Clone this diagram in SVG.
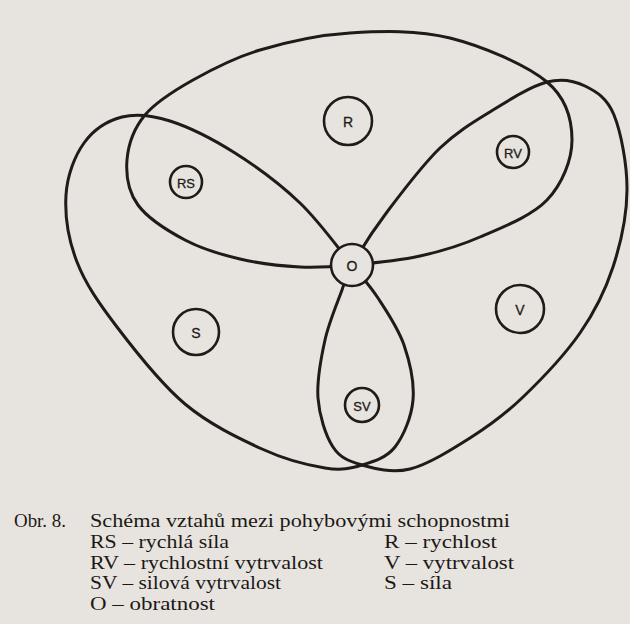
<svg xmlns="http://www.w3.org/2000/svg" width="630" height="624" viewBox="0 0 630 624">
  <style>
    .loop { fill: none; stroke: #1f1b19; stroke-width: 3; stroke-linejoin: round; }
    .node circle { fill: #e7e4df; stroke: #1f1b19; stroke-width: 2.6; }
    .node text { font-family: "Liberation Sans", Arial, sans-serif; font-size: 14px; fill: #1f1b19; text-anchor: middle; dominant-baseline: central; stroke: #1f1b19; stroke-width: 0.3; }
    .node text.small { font-size: 13px; }
    .cap { font-family: "Liberation Serif", "Times New Roman", serif; font-size: 18.5px; fill: #1c1816; }
  </style>
  <rect x="0" y="0" width="630" height="624" fill="#e7e4df"/>

  <g id="connectors">
    <path id="loop-R" class="loop" d="M352,265 C332,266.8 318.7,268 300,267 C281.3,266 259.2,263.5 240,259 C220.8,254.5 202,249 185,240 C168,231 147.7,218.3 138,205 C128.3,191.7 125.8,175 127,160 C128.2,145 134,128.3 145,115 C156,101.7 173.8,90.8 193,80 C212.2,69.2 233.8,57.8 260,50 C286.2,42.2 318.3,35 350,33 C381.7,31 417.2,29.8 450,38 C482.8,46.2 526.7,65 547,82 C567.3,99 572,120.3 572,140 C572,159.7 562.3,183.8 547,200 C531.7,216.2 501.2,227.7 480,237 C458.8,246.3 441.3,251.3 420,256 C398.7,260.7 372,263.2 352,265 Z"/>
    <path id="loop-S" class="loop" d="M352,265 C339,249.2 319.5,221.7 300,203 C280.5,184.3 256.7,166.7 235,153 C213.3,139.3 188.8,127 170,121 C151.2,115 136.3,113.3 122,117 C107.7,120.7 93.3,130 84,143 C74.7,156 67.2,175.2 66,195 C64.8,214.8 68.5,240 77,262 C85.5,284 99,303.3 117,327 C135,350.7 160.8,383.7 185,404 C209.2,424.3 238.7,438.3 262,449 C285.3,459.7 308.3,465.3 325,468 C341.7,470.7 350.3,468.5 362,465 C373.7,461.5 386.5,457.8 395,447 C403.5,436.2 411.5,417 413,400 C414.5,383 409.8,362 404,345 C398.2,328 386.7,311.3 378,298 C369.3,284.7 365,280.8 352,265 Z"/>
    <path id="loop-V" class="loop" d="M352,265 C359.5,252 372.3,231.5 387,212 C401.7,192.5 422.3,165 440,148 C457.7,131 475.2,121 493,110 C510.8,99 531.7,86 547,82 C562.3,78 573.8,80.5 585,86 C596.2,91.5 607,97.7 614,115 C621,132.3 627.2,164.7 627,190 C626.8,215.3 620.8,243.2 613,267 C605.2,290.8 595.2,311.2 580,333 C564.8,354.8 540.3,380.5 522,398 C503.7,415.5 488.7,426.2 470,438 C451.3,449.8 428,464.5 410,469 C392,473.5 374.8,468.7 362,465 C349.2,461.3 340.3,458.2 333,447 C325.7,435.8 319.3,415.8 318,398 C316.7,380.2 321,358 325,340 C329,322 337.5,302.5 342,290 C346.5,277.5 344.5,278 352,265 Z"/>
  </g>

  <g id="node-O" class="node"><circle cx="352" cy="265" r="21"/><text x="352" y="266">O</text></g>
  <g id="node-R" class="node"><circle cx="348" cy="121" r="24"/><text x="348" y="122">R</text></g>
  <g id="node-RS" class="node"><circle cx="186" cy="182" r="16"/><text class="small" x="186" y="183">RS</text></g>
  <g id="node-RV" class="node"><circle cx="513" cy="152" r="16"/><text class="small" x="513" y="153">RV</text></g>
  <g id="node-S" class="node"><circle cx="196" cy="332" r="23"/><text x="196" y="333">S</text></g>
  <g id="node-V" class="node"><circle cx="520" cy="309" r="24"/><text x="520" y="310">V</text></g>
  <g id="node-SV" class="node"><circle cx="362" cy="405" r="17"/><text class="small" x="362" y="406">SV</text></g>

  <g id="caption" class="cap">
    <text x="14" y="527" textLength="52" lengthAdjust="spacingAndGlyphs">Obr. 8.</text>
    <text x="90" y="527" textLength="420" lengthAdjust="spacingAndGlyphs">Schéma vztahů mezi pohybovými schopnostmi</text>
    <text x="90" y="548" textLength="139" lengthAdjust="spacingAndGlyphs">RS – rychlá síla</text>
    <text x="90" y="568.5" textLength="233" lengthAdjust="spacingAndGlyphs">RV – rychlostní vytrvalost</text>
    <text x="90" y="589" textLength="191" lengthAdjust="spacingAndGlyphs">SV – silová vytrvalost</text>
    <text x="90" y="609.5" textLength="125" lengthAdjust="spacingAndGlyphs">O – obratnost</text>
    <text x="384" y="548" textLength="113" lengthAdjust="spacingAndGlyphs">R – rychlost</text>
    <text x="384" y="568.5" textLength="130" lengthAdjust="spacingAndGlyphs">V – vytrvalost</text>
    <text x="384" y="589" textLength="68" lengthAdjust="spacingAndGlyphs">S – síla</text>
  </g>
</svg>
